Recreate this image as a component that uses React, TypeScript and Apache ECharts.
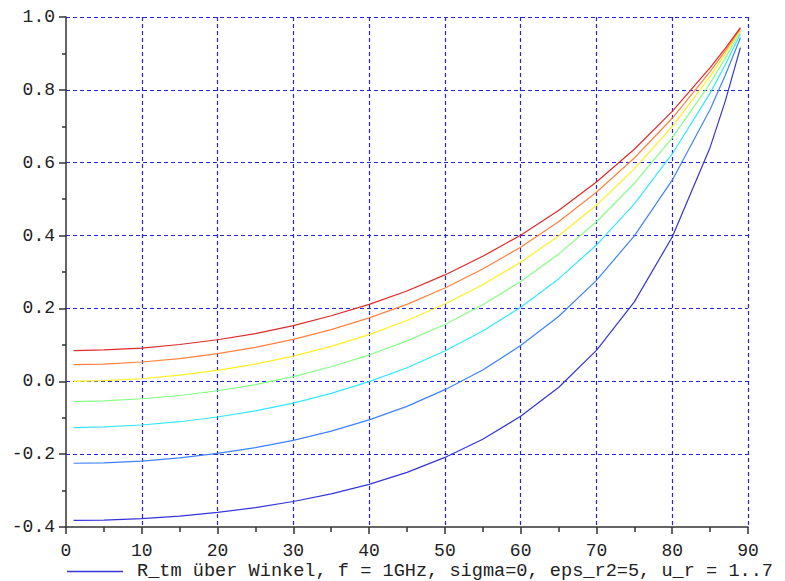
import React, { useEffect, useRef } from "react";
import * as echarts from "echarts";

const angles = [1, 5, 10, 15, 20, 25, 30, 35, 40, 45, 50, 55, 60, 65, 70, 75, 80, 85, 87, 89];

const ur1 = [-0.382, -0.381, -0.377, -0.370, -0.360, -0.347, -0.330, -0.309, -0.283, -0.250, -0.209, -0.159, -0.096, -0.017, 0.085, 0.218, 0.396, 0.642, 0.769, 0.916];
const ur2 = [-0.225, -0.224, -0.219, -0.210, -0.198, -0.182, -0.162, -0.137, -0.106, -0.069, -0.023, 0.031, 0.098, 0.178, 0.277, 0.399, 0.552, 0.746, 0.840, 0.943];
const ur3 = [-0.127, -0.125, -0.120, -0.111, -0.098, -0.081, -0.060, -0.033, -0.001, 0.037, 0.083, 0.138, 0.203, 0.281, 0.374, 0.487, 0.624, 0.791, 0.869, 0.954];
const ur4 = [-0.056, -0.054, -0.048, -0.039, -0.026, -0.009, 0.013, 0.040, 0.072, 0.111, 0.156, 0.210, 0.274, 0.349, 0.438, 0.543, 0.668, 0.818, 0.887, 0.961];
const ur5 = [0.000, 0.002, 0.007, 0.017, 0.030, 0.047, 0.069, 0.096, 0.128, 0.167, 0.212, 0.265, 0.327, 0.399, 0.483, 0.583, 0.699, 0.837, 0.899, 0.965];
const ur6 = [0.046, 0.047, 0.053, 0.062, 0.076, 0.093, 0.115, 0.142, 0.174, 0.211, 0.256, 0.308, 0.368, 0.438, 0.519, 0.613, 0.722, 0.850, 0.907, 0.968];
const ur7 = [0.084, 0.086, 0.091, 0.101, 0.114, 0.131, 0.153, 0.180, 0.211, 0.248, 0.292, 0.343, 0.401, 0.469, 0.547, 0.637, 0.741, 0.861, 0.914, 0.971];

const seriesValues = [ur1, ur2, ur3, ur4, ur5, ur6, ur7];
const seriesColors = ["#3434d8", "#3f82ff", "#33e8ff", "#86ff86", "#ffee22", "#ff8040", "#dd2a2a"];
const legendName = "R_tm über Winkel, f = 1GHz, sigma=0, eps_r2=5, u_r = 1..7";

const FONT = "'Liberation Mono', 'DejaVu Sans Mono', monospace";

export default function App() {
  const ref = useRef<HTMLDivElement>(null);
  useEffect(() => {
    if (!ref.current) return;
    const chart = echarts.init(ref.current, null, { renderer: "svg" });
    const series = seriesValues.map((vals, i) => ({
      name: i === 0 ? legendName : "ur" + (i + 1),
      type: "line",
      data: angles.map((a, k) => [a, vals[k]]),
      symbol: "none",
      lineStyle: { color: seriesColors[i], width: 1.2 },
      itemStyle: { color: seriesColors[i] },
      z: 3,
    }));
    chart.setOption({
      animation: false,
      backgroundColor: "#ffffff",
      grid: { left: 66, top: 17, width: 682, height: 510, containLabel: false },
      legend: {
        data: [{ name: legendName, icon: "rect" }],
        left: 67,
        top: 562,
        padding: 0,
        itemWidth: 56,
        itemHeight: 1.5,
        textStyle: { fontFamily: FONT, fontSize: 18.6, color: "#222", padding: [0, 0, 0, 9], lineHeight: 14 },
      },
      xAxis: {
        type: "value",
        min: 0,
        max: 90,
        interval: 10,
        axisLine: { show: true, onZero: false, lineStyle: { color: "#333", width: 1.5 } },
        axisTick: { show: true, inside: false, length: 7, lineStyle: { color: "#333", width: 1.5 } },
        minorTick: { show: true, splitNumber: 2, length: 5, lineStyle: { color: "#333", width: 1.5 } },
        axisLabel: { fontFamily: FONT, fontSize: 18, color: "#222", margin: 17, lineHeight: 14 },
        splitLine: {
          show: true,
          showMinLine: false,
          lineStyle: { color: "#2424d8", type: [4, 3], width: 1.2 },
        },
      },
      yAxis: {
        type: "value",
        min: -0.4,
        max: 1.0,
        interval: 0.2,
        axisLine: { show: true, onZero: false, lineStyle: { color: "#333", width: 1.5 } },
        axisTick: { show: true, inside: false, length: 7, lineStyle: { color: "#333", width: 1.5 } },
        minorTick: { show: true, splitNumber: 2, length: 4, lineStyle: { color: "#333", width: 1.5 } },
        axisLabel: {
          fontFamily: FONT,
          fontSize: 18,
          color: "#222",
          margin: 11,
          formatter: (v: number) => v.toFixed(1),
        },
        splitLine: {
          show: true,
          showMinLine: false,
          lineStyle: { color: "#2424d8", type: [4, 3], width: 1.2 },
        },
      },
      series,
    });
    return () => chart.dispose();
  }, []);
  return (
    <div
      ref={ref}
      style={{ position: "fixed", left: 0, top: 0, width: 785, height: 581, background: "#fff" }}
    />
  );
}
